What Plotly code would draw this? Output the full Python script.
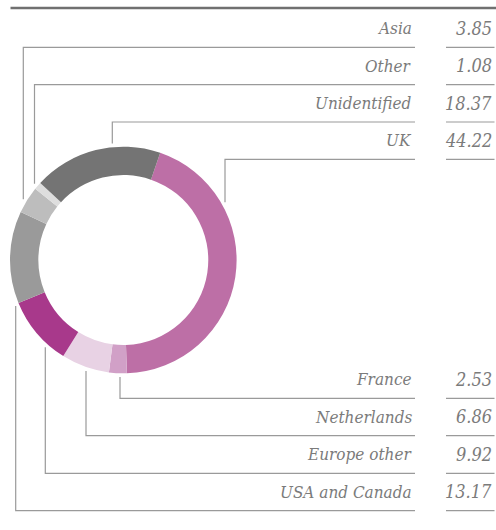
import math
import plotly.graph_objects as go

# ---- data ----
categories = ["UK", "France", "Netherlands", "Europe other", "USA and Canada",
              "Asia", "Other", "Unidentified"]
values = [44.22, 2.53, 6.86, 9.92, 13.17, 3.85, 1.08, 18.37]
value_labels = ["44.22", "2.53", "6.86", "9.92", "13.17", "3.85", "1.08", "18.37"]
colors = ["#bd6fa6", "#d1a0c7", "#e8d2e4", "#a8398b", "#9a9a9a",
          "#bdbdbd", "#dedede", "#747474"]

# ---- layout (pixels) ----
W, H = 496, 530
CX, CY, R = 123.3, 260.0, 113.3
HOLE = 0.75
GAP_R = 117.0
LABEL_RIGHT = 415
VAL_LEFT, VAL_RIGHT = 446, 494.5

# rows: category -> (underline y, leader vertical x, side of circle)
rows = {
    "Asia":           (47.3, 23.3, "top"),
    "Other":          (84.7, 34.5, "top"),
    "Unidentified":   (122.0, 112.3, "top"),
    "UK":             (159.3, 225.0, "top"),
    "France":         (398.3, 120.0, "bottom"),
    "Netherlands":    (435.7, 86.0, "bottom"),
    "Europe other":   (473.3, 45.3, "bottom"),
    "USA and Canada": (510.7, 15.7, "bottom"),
}

TEXT_COLOR = "#7b7b7b"
LINE_COLOR = "#9a9a9a"
FONT = "DejaVu Serif Condensed"
FS_LABEL = 17
FS_VALUE = 18

fig = go.Figure()
fig.add_trace(go.Pie(
    labels=categories, values=values, sort=False, direction="clockwise",
    rotation=19, hole=HOLE, textinfo="none", hoverinfo="label+value",
    marker=dict(colors=colors, line=dict(width=0)),
    domain=dict(x=[(CX - R) / W, (CX + R) / W],
                y=[(H - (CY + R)) / H, (H - (CY - R)) / H]),
    showlegend=False,
))

shapes = []
annotations = []
# header rule
shapes.append(dict(type="line", xref="x", yref="y", x0=10.5, x1=496, y0=8, y1=8,
                   line=dict(color="#707070", width=2.5)))

for cat, val_txt in zip(categories, value_labels):
    ly, vx, side = rows[cat]
    dx = vx - CX
    dy = math.sqrt(max(GAP_R ** 2 - dx ** 2, 0))
    end_y = CY - dy if side == "top" else CY + dy
    shapes.append(dict(type="path", xref="x", yref="y",
                       path=f"M {vx},{end_y:.1f} L {vx},{ly} L {LABEL_RIGHT},{ly}",
                       line=dict(color=LINE_COLOR, width=1.2)))
    shapes.append(dict(type="line", xref="x", yref="y", x0=VAL_LEFT, x1=VAL_RIGHT,
                       y0=ly, y1=ly, line=dict(color=LINE_COLOR, width=1.2)))
    annotations.append(dict(x=LABEL_RIGHT - 1.5, y=ly - 19, xref="x", yref="y",
                            text=cat, showarrow=False,
                            xanchor="right", yanchor="middle",
                            font=dict(family=FONT, size=FS_LABEL, color=TEXT_COLOR,
                                      style="italic")))
    annotations.append(dict(x=VAL_RIGHT - 1, y=ly - 19, xref="x", yref="y",
                            text=val_txt, showarrow=False,
                            xanchor="right", yanchor="middle",
                            font=dict(family=FONT, size=FS_VALUE, color=TEXT_COLOR,
                                      style="italic")))

fig.update_layout(
    width=W, height=H, margin=dict(l=0, r=0, t=0, b=0),
    paper_bgcolor="white", plot_bgcolor="white",
    xaxis=dict(range=[0, W], visible=False, fixedrange=True),
    yaxis=dict(range=[H, 0], visible=False, fixedrange=True),
    shapes=shapes, annotations=annotations,
)

fig.write_html("out.html")
